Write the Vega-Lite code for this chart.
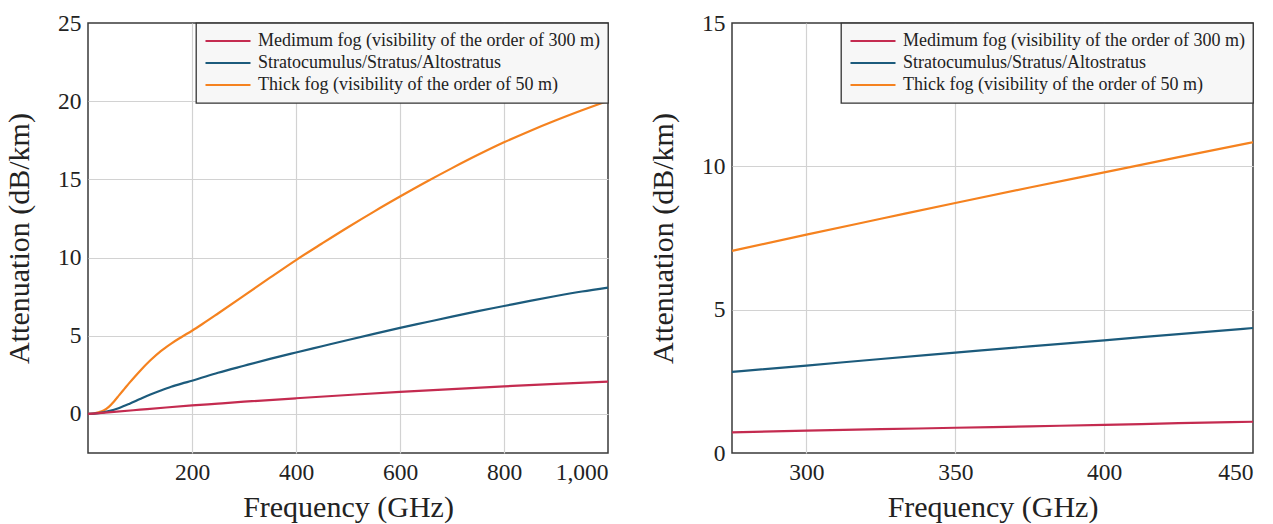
{
  "$schema": "https://vega.github.io/schema/vega-lite/v6.json",
  "background": "white",
  "padding": {"left": 3, "top": 10, "right": 1, "bottom": 4},
  "spacing": 33,
  "config": {
    "font": "Liberation Serif, serif",
    "view": {"stroke": "#3a3a3a", "strokeWidth": 1.5},
    "axis": {
      "labelFont": "Liberation Serif, serif", "labelFontSize": 23.5, "labelColor": "#222222",
      "titleFont": "Liberation Serif, serif", "titleFontSize": 30, "titleFontWeight": "normal", "titleColor": "#222222",
      "grid": true, "gridColor": "#d2d2d2", "gridWidth": 1.2, "ticks": false, "domain": false,
      "labelPadding": 7
    },
    "axisX": {"titlePadding": 9},
    "axisY": {"titlePadding": 23},
    "legend": {
      "orient": "top-right", "offset": 0, "title": null,
      "labelFont": "Liberation Serif, serif", "labelFontSize": 18, "labelColor": "#222222", "labelLimit": 600,
      "symbolType": "stroke", "symbolSize": 2025, "symbolStrokeWidth": 2.2, "clipHeight": 20,
      "rowPadding": 2, "labelOffset": 6, "padding": 8,
      "fillColor": "#f7f7f7", "strokeColor": "#333333", "strokeWidth": 1.3
    },
    "line": {"strokeWidth": 2.2}
  },
  "datasets": {
    "left": [
      {"f": 0, "a": 0, "s": "Thick fog (visibility of the order of 50 m)"},
      {"f": 10, "a": 0.02, "s": "Thick fog (visibility of the order of 50 m)"},
      {"f": 20, "a": 0.1, "s": "Thick fog (visibility of the order of 50 m)"},
      {"f": 30, "a": 0.22, "s": "Thick fog (visibility of the order of 50 m)"},
      {"f": 40, "a": 0.45, "s": "Thick fog (visibility of the order of 50 m)"},
      {"f": 50, "a": 0.8, "s": "Thick fog (visibility of the order of 50 m)"},
      {"f": 60, "a": 1.2, "s": "Thick fog (visibility of the order of 50 m)"},
      {"f": 70, "a": 1.6, "s": "Thick fog (visibility of the order of 50 m)"},
      {"f": 80, "a": 2.0, "s": "Thick fog (visibility of the order of 50 m)"},
      {"f": 90, "a": 2.38, "s": "Thick fog (visibility of the order of 50 m)"},
      {"f": 100, "a": 2.75, "s": "Thick fog (visibility of the order of 50 m)"},
      {"f": 120, "a": 3.43, "s": "Thick fog (visibility of the order of 50 m)"},
      {"f": 140, "a": 4.02, "s": "Thick fog (visibility of the order of 50 m)"},
      {"f": 160, "a": 4.5, "s": "Thick fog (visibility of the order of 50 m)"},
      {"f": 180, "a": 4.92, "s": "Thick fog (visibility of the order of 50 m)"},
      {"f": 200, "a": 5.32, "s": "Thick fog (visibility of the order of 50 m)"},
      {"f": 220, "a": 5.75, "s": "Thick fog (visibility of the order of 50 m)"},
      {"f": 250, "a": 6.42, "s": "Thick fog (visibility of the order of 50 m)"},
      {"f": 300, "a": 7.56, "s": "Thick fog (visibility of the order of 50 m)"},
      {"f": 350, "a": 8.71, "s": "Thick fog (visibility of the order of 50 m)"},
      {"f": 400, "a": 9.84, "s": "Thick fog (visibility of the order of 50 m)"},
      {"f": 450, "a": 10.9, "s": "Thick fog (visibility of the order of 50 m)"},
      {"f": 500, "a": 11.94, "s": "Thick fog (visibility of the order of 50 m)"},
      {"f": 550, "a": 12.94, "s": "Thick fog (visibility of the order of 50 m)"},
      {"f": 600, "a": 13.9, "s": "Thick fog (visibility of the order of 50 m)"},
      {"f": 650, "a": 14.83, "s": "Thick fog (visibility of the order of 50 m)"},
      {"f": 700, "a": 15.72, "s": "Thick fog (visibility of the order of 50 m)"},
      {"f": 750, "a": 16.57, "s": "Thick fog (visibility of the order of 50 m)"},
      {"f": 800, "a": 17.37, "s": "Thick fog (visibility of the order of 50 m)"},
      {"f": 850, "a": 18.1, "s": "Thick fog (visibility of the order of 50 m)"},
      {"f": 900, "a": 18.78, "s": "Thick fog (visibility of the order of 50 m)"},
      {"f": 950, "a": 19.42, "s": "Thick fog (visibility of the order of 50 m)"},
      {"f": 1000, "a": 20.03, "s": "Thick fog (visibility of the order of 50 m)"},
      {"f": 0, "a": 0, "s": "Stratocumulus/Stratus/Altostratus"},
      {"f": 20, "a": 0.05, "s": "Stratocumulus/Stratus/Altostratus"},
      {"f": 40, "a": 0.18, "s": "Stratocumulus/Stratus/Altostratus"},
      {"f": 60, "a": 0.38, "s": "Stratocumulus/Stratus/Altostratus"},
      {"f": 80, "a": 0.65, "s": "Stratocumulus/Stratus/Altostratus"},
      {"f": 100, "a": 0.95, "s": "Stratocumulus/Stratus/Altostratus"},
      {"f": 120, "a": 1.24, "s": "Stratocumulus/Stratus/Altostratus"},
      {"f": 140, "a": 1.5, "s": "Stratocumulus/Stratus/Altostratus"},
      {"f": 160, "a": 1.74, "s": "Stratocumulus/Stratus/Altostratus"},
      {"f": 180, "a": 1.94, "s": "Stratocumulus/Stratus/Altostratus"},
      {"f": 200, "a": 2.12, "s": "Stratocumulus/Stratus/Altostratus"},
      {"f": 250, "a": 2.63, "s": "Stratocumulus/Stratus/Altostratus"},
      {"f": 300, "a": 3.08, "s": "Stratocumulus/Stratus/Altostratus"},
      {"f": 350, "a": 3.52, "s": "Stratocumulus/Stratus/Altostratus"},
      {"f": 400, "a": 3.93, "s": "Stratocumulus/Stratus/Altostratus"},
      {"f": 450, "a": 4.33, "s": "Stratocumulus/Stratus/Altostratus"},
      {"f": 500, "a": 4.73, "s": "Stratocumulus/Stratus/Altostratus"},
      {"f": 550, "a": 5.12, "s": "Stratocumulus/Stratus/Altostratus"},
      {"f": 600, "a": 5.5, "s": "Stratocumulus/Stratus/Altostratus"},
      {"f": 650, "a": 5.86, "s": "Stratocumulus/Stratus/Altostratus"},
      {"f": 700, "a": 6.22, "s": "Stratocumulus/Stratus/Altostratus"},
      {"f": 750, "a": 6.57, "s": "Stratocumulus/Stratus/Altostratus"},
      {"f": 800, "a": 6.9, "s": "Stratocumulus/Stratus/Altostratus"},
      {"f": 850, "a": 7.23, "s": "Stratocumulus/Stratus/Altostratus"},
      {"f": 900, "a": 7.54, "s": "Stratocumulus/Stratus/Altostratus"},
      {"f": 950, "a": 7.83, "s": "Stratocumulus/Stratus/Altostratus"},
      {"f": 1000, "a": 8.08, "s": "Stratocumulus/Stratus/Altostratus"},
      {"f": 0, "a": 0, "s": "Medimum fog (visibility of the order of 300 m)"},
      {"f": 50, "a": 0.13, "s": "Medimum fog (visibility of the order of 300 m)"},
      {"f": 100, "a": 0.27, "s": "Medimum fog (visibility of the order of 300 m)"},
      {"f": 150, "a": 0.41, "s": "Medimum fog (visibility of the order of 300 m)"},
      {"f": 200, "a": 0.54, "s": "Medimum fog (visibility of the order of 300 m)"},
      {"f": 250, "a": 0.66, "s": "Medimum fog (visibility of the order of 300 m)"},
      {"f": 300, "a": 0.78, "s": "Medimum fog (visibility of the order of 300 m)"},
      {"f": 400, "a": 1.0, "s": "Medimum fog (visibility of the order of 300 m)"},
      {"f": 500, "a": 1.21, "s": "Medimum fog (visibility of the order of 300 m)"},
      {"f": 600, "a": 1.41, "s": "Medimum fog (visibility of the order of 300 m)"},
      {"f": 700, "a": 1.59, "s": "Medimum fog (visibility of the order of 300 m)"},
      {"f": 800, "a": 1.76, "s": "Medimum fog (visibility of the order of 300 m)"},
      {"f": 900, "a": 1.92, "s": "Medimum fog (visibility of the order of 300 m)"},
      {"f": 1000, "a": 2.06, "s": "Medimum fog (visibility of the order of 300 m)"}
    ],
    "right": [
      {"f": 275, "a": 7.05, "s": "Thick fog (visibility of the order of 50 m)"},
      {"f": 300, "a": 7.62, "s": "Thick fog (visibility of the order of 50 m)"},
      {"f": 325, "a": 8.17, "s": "Thick fog (visibility of the order of 50 m)"},
      {"f": 350, "a": 8.72, "s": "Thick fog (visibility of the order of 50 m)"},
      {"f": 375, "a": 9.26, "s": "Thick fog (visibility of the order of 50 m)"},
      {"f": 400, "a": 9.79, "s": "Thick fog (visibility of the order of 50 m)"},
      {"f": 425, "a": 10.32, "s": "Thick fog (visibility of the order of 50 m)"},
      {"f": 450, "a": 10.84, "s": "Thick fog (visibility of the order of 50 m)"},
      {"f": 275, "a": 2.83, "s": "Stratocumulus/Stratus/Altostratus"},
      {"f": 300, "a": 3.05, "s": "Stratocumulus/Stratus/Altostratus"},
      {"f": 325, "a": 3.28, "s": "Stratocumulus/Stratus/Altostratus"},
      {"f": 350, "a": 3.5, "s": "Stratocumulus/Stratus/Altostratus"},
      {"f": 375, "a": 3.72, "s": "Stratocumulus/Stratus/Altostratus"},
      {"f": 400, "a": 3.93, "s": "Stratocumulus/Stratus/Altostratus"},
      {"f": 425, "a": 4.15, "s": "Stratocumulus/Stratus/Altostratus"},
      {"f": 450, "a": 4.36, "s": "Stratocumulus/Stratus/Altostratus"},
      {"f": 275, "a": 0.72, "s": "Medimum fog (visibility of the order of 300 m)"},
      {"f": 300, "a": 0.78, "s": "Medimum fog (visibility of the order of 300 m)"},
      {"f": 325, "a": 0.83, "s": "Medimum fog (visibility of the order of 300 m)"},
      {"f": 350, "a": 0.88, "s": "Medimum fog (visibility of the order of 300 m)"},
      {"f": 375, "a": 0.93, "s": "Medimum fog (visibility of the order of 300 m)"},
      {"f": 400, "a": 0.98, "s": "Medimum fog (visibility of the order of 300 m)"},
      {"f": 425, "a": 1.04, "s": "Medimum fog (visibility of the order of 300 m)"},
      {"f": 450, "a": 1.09, "s": "Medimum fog (visibility of the order of 300 m)"}
    ]
  },
  "hconcat": [
    {
      "width": 520, "height": 430,
      "data": {"name": "left"},
      "mark": {"type": "line", "interpolate": "monotone"},
      "encoding": {
        "x": {"field": "f", "type": "quantitative", "title": "Frequency (GHz)",
          "scale": {"domain": [0, 1000], "nice": false, "zero": false},
          "axis": {"values": [200, 400, 600, 800, 1000], "gridOpacity": {"condition": {"test": "datum.value === 1000", "value": 0}, "value": 1}}},
        "y": {"field": "a", "type": "quantitative", "title": "Attenuation (dB/km)",
          "scale": {"domain": [-2.5, 25], "nice": false, "zero": false},
          "axis": {"values": [0, 5, 10, 15, 20, 25], "gridOpacity": {"condition": {"test": "datum.value === 25", "value": 0}, "value": 1}}},
        "color": {"field": "s", "type": "nominal",
          "scale": {"domain": ["Medimum fog (visibility of the order of 300 m)", "Stratocumulus/Stratus/Altostratus", "Thick fog (visibility of the order of 50 m)"],
                    "range": ["#c42b50", "#1c5b7c", "#f5821f"]}}
      }
    },
    {
      "width": 521, "height": 430,
      "data": {"name": "right"},
      "mark": {"type": "line", "interpolate": "monotone"},
      "encoding": {
        "x": {"field": "f", "type": "quantitative", "title": "Frequency (GHz)",
          "scale": {"domain": [275, 450], "nice": false, "zero": false},
          "axis": {"values": [300, 350, 400, 450], "gridOpacity": {"condition": {"test": "datum.value === 450", "value": 0}, "value": 1}}},
        "y": {"field": "a", "type": "quantitative", "title": "Attenuation (dB/km)",
          "scale": {"domain": [0, 15], "nice": false, "zero": false},
          "axis": {"values": [0, 5, 10, 15], "gridOpacity": {"condition": {"test": "datum.value === 0 || datum.value === 15", "value": 0}, "value": 1}}},
        "color": {"field": "s", "type": "nominal",
          "scale": {"domain": ["Medimum fog (visibility of the order of 300 m)", "Stratocumulus/Stratus/Altostratus", "Thick fog (visibility of the order of 50 m)"],
                    "range": ["#c42b50", "#1c5b7c", "#f5821f"]}}
      }
    }
  ],
  "resolve": {"legend": {"color": "independent"}, "scale": {"color": "independent"}}
}
